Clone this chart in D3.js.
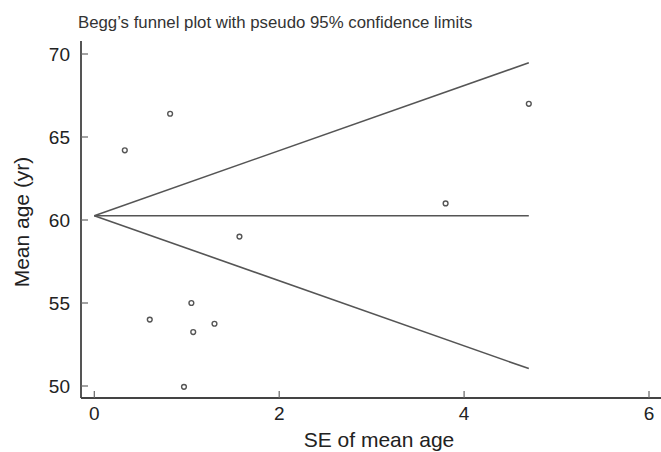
<!DOCTYPE html>
<html>
<head>
    <title>Begg's funnel plot</title>
    <script src="https://cdnjs.cloudflare.com/ajax/libs/d3/7.8.5/d3.min.js"></script>
    <style>
        body { margin: 0; background: #fff; }
        text { font-family: "Liberation Sans", Arial, sans-serif; fill: #222; }
        .pt { fill: none; stroke: #555; stroke-width: 1.4px; }
        .funnel { stroke: #555; stroke-width: 1.6px; fill: none; }
    </style>
</head>
<body>
<script>
    // studies: standard error vs mean age
    var seValues = [0.33, 0.82, 1.57, 3.80, 4.70, 0.60, 1.05, 1.07, 1.30, 0.97];
    var ageValues = [64.2, 66.4, 59.0, 61.0, 67.0, 54.0, 55.0, 53.25, 53.75, 49.95];
    var pooledMean = 60.26;
    var maxSE = 4.7;
    var xTicks = [0, 2, 4, 6];
    var yTicks = [50, 55, 60, 65, 70];

    var W = 661, H = 452;
    var svg = d3.select("body").append("svg")
        .attr("width", W)
        .attr("height", H);

    var x = d3.scaleLinear().domain([0, 6]).range([94.3, 649]);
    var y = d3.scaleLinear().domain([50, 70]).range([386, 54]);

    var axisX0 = 81, axisY0 = 398;

    // title
    svg.append("text")
        .attr("x", 78).attr("y", 28)
        .style("font-size", "16.8px")
        .style("fill", "#333")
        .text("Begg\u2019s funnel plot with pseudo 95% confidence limits");

    // axis lines
    svg.append("line")
        .attr("x1", axisX0).attr("x2", axisX0)
        .attr("y1", 41).attr("y2", axisY0)
        .attr("stroke", "#555").attr("stroke-width", 2);
    svg.append("line")
        .attr("x1", axisX0).attr("x2", W)
        .attr("y1", axisY0).attr("y2", axisY0)
        .attr("stroke", "#444").attr("stroke-width", 2);

    // y ticks (inward)
    var yt = svg.append("g").selectAll("g").data(yTicks).enter().append("g");
    yt.append("line")
        .attr("x1", axisX0).attr("x2", axisX0 + 7)
        .attr("y1", function (d) { return y(d); })
        .attr("y2", function (d) { return y(d); })
        .attr("stroke", "#666").attr("stroke-width", 1.2);
    yt.append("text")
        .attr("x", 70)
        .attr("y", function (d) { return y(d) + 7; })
        .attr("text-anchor", "end")
        .style("font-size", "19px")
        .text(function (d) { return d; });

    // x ticks (inward)
    var xt = svg.append("g").selectAll("g").data(xTicks).enter().append("g");
    xt.append("line")
        .attr("x1", function (d) { return x(d); })
        .attr("x2", function (d) { return x(d); })
        .attr("y1", axisY0).attr("y2", axisY0 - 7)
        .attr("stroke", "#666").attr("stroke-width", 1.2);
    xt.append("text")
        .attr("x", function (d) { return x(d); })
        .attr("y", 420)
        .attr("text-anchor", "middle")
        .style("font-size", "19px")
        .text(function (d) { return d; });

    // axis titles
    svg.append("text")
        .attr("x", 379).attr("y", 447)
        .attr("text-anchor", "middle")
        .style("font-size", "21px")
        .text("SE of mean age");
    svg.append("text")
        .attr("transform", "translate(29,222) rotate(-90)")
        .attr("text-anchor", "middle")
        .style("font-size", "21px")
        .text("Mean age (yr)");

    // funnel: pooled line and pseudo 95% limits
    var funnelLines = [
        [[0, pooledMean], [maxSE, pooledMean]],
        [[0, pooledMean], [maxSE, pooledMean + 1.96 * maxSE]],
        [[0, pooledMean], [maxSE, pooledMean - 1.96 * maxSE]]
    ];
    var line = d3.line()
        .x(function (d) { return x(d[0]); })
        .y(function (d) { return y(d[1]); });
    svg.selectAll("path.funnel").data(funnelLines).enter().append("path")
        .attr("class", "funnel")
        .attr("d", line);

    // study points
    svg.selectAll("circle.pt").data(seValues).enter().append("circle")
        .attr("class", "pt")
        .attr("cx", function (d) { return x(d); })
        .attr("cy", function (d, i) { return y(ageValues[i]); })
        .attr("r", 2.4);
</script>
</body>
</html>
